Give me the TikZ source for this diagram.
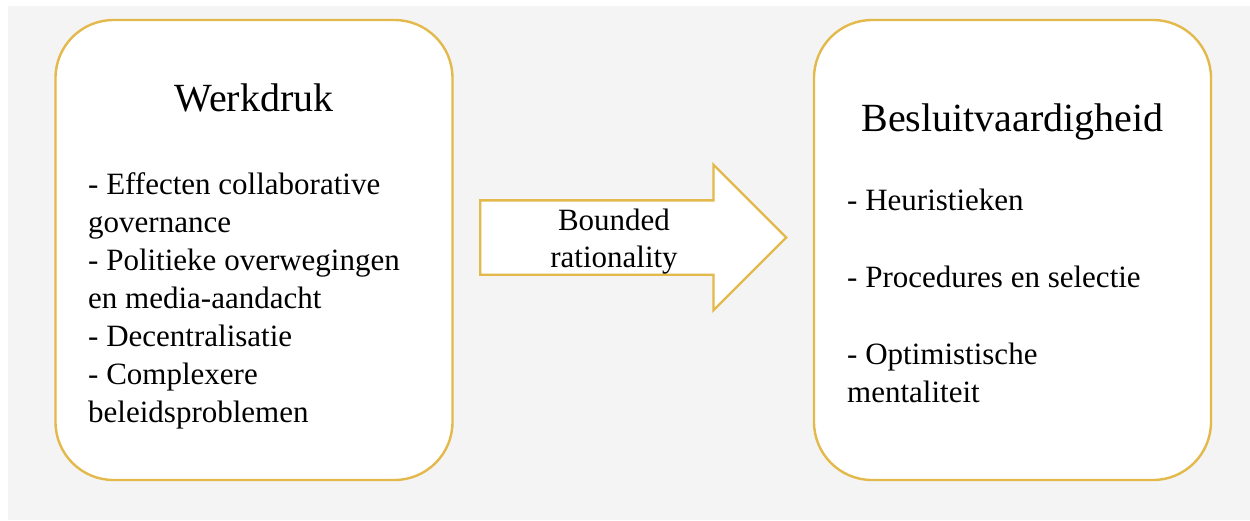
\documentclass[tikz,border=0pt]{standalone}
\usepackage{fontspec}
\setmainfont{Liberation Serif}
\usetikzlibrary{positioning,shapes,shapes.arrows}
\definecolor{goldline}{RGB}{228,185,75}
\definecolor{pagegray}{RGB}{244,244,244}
\tikzstyle{rbox}=[rectangle, rounded corners=58pt, draw=goldline, fill=white,
                  line width=2.4pt, minimum width=397pt, minimum height=460pt]
\tikzstyle{hbox}=[inner sep=0pt, font=\fontsize{40}{48}\selectfont]
\tikzstyle{lbox}=[inner sep=0pt, align=left, font=\fontsize{31}{38}\selectfont]
\tikzstyle{abox}=[single arrow, draw=goldline, fill=white, line width=2.4pt,
                  single arrow head extend=35.5pt, single arrow tip angle=90,
                  inner xsep=0pt, inner ysep=36pt, minimum height=306pt]
\tikzstyle{atext}=[inner sep=0pt, align=center, font=\fontsize{31}{37}\selectfont]

\begin{document}
\begin{tikzpicture}[x=1pt, y=1pt]
\useasboundingbox (0,0) rectangle (1250,-520);
\fill[pagegray] (8,-6) rectangle (1250,-520);

\node (WDRK) [rbox] at (254,-250) {};
\node (WDRKhd) [hbox, below=93pt of WDRK.north, anchor=base] {Werkdruk};
\node (WDRKls) [lbox, anchor=base west] at (88,-422) {- Effecten collaborative\\governance\\- Politieke overwegingen\\en media-aandacht\\- Decentralisatie\\- Complexere\\beleidsproblemen};

\node (BSLV) [rbox] at (1012.5,-250) {};
\node (BSLVhd) [hbox, below=113pt of BSLV.north, anchor=base] {Besluitvaardigheid};
\node (BSLVls) [lbox, anchor=base west] at (847,-402) {- Heuristieken\\[39pt]- Procedures en selectie\\[39pt]- Optimistische\\mentaliteit};

\node (BNDR) [abox, anchor=tail] at (479,-237.5) {};
\node (BNDRtx) [atext, anchor=base] at (614,-267) {Bounded\\rationality};

\end{tikzpicture}
\end{document}
